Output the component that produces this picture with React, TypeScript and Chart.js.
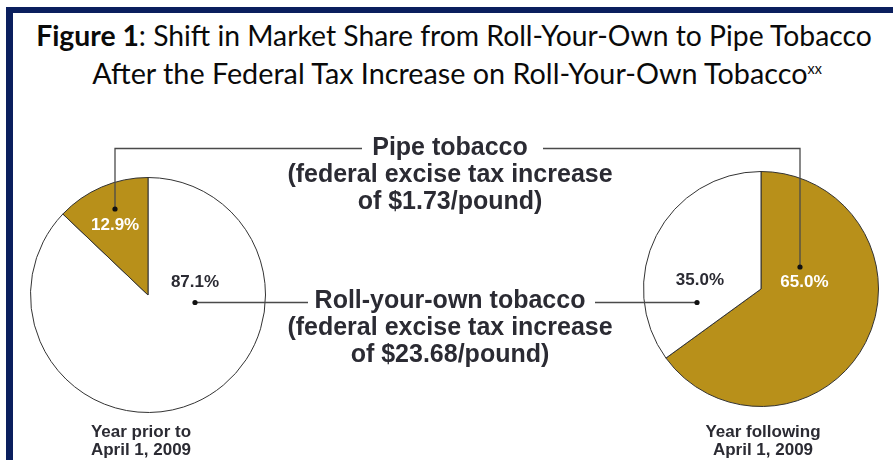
import React, { useEffect, useLayoutEffect, useRef } from "react";
import { Chart, registerables } from "chart.js";

Chart.register(...registerables);

// ---- data ----
const leftCategories = ["Roll-your-own tobacco", "Pipe tobacco"];
const leftValues = [87.1, 12.9];
const rightCategories = ["Pipe tobacco", "Roll-your-own tobacco"];
const rightValues = [65.0, 35.0];

const titleBold = "Figure 1";
const titleLine1 = ": Shift in Market Share from Roll-Your-Own to Pipe Tobacco";
const titleLine2 = "After the Federal Tax Increase on Roll-Your-Own Tobacco";
const titleSup = "xx";
const pipeLines = ["Pipe tobacco", "(federal excise tax increase", "of $1.73/pound)"];
const ryoLines = ["Roll-your-own tobacco", "(federal excise tax increase", "of $23.68/pound)"];
const leftCaption = ["Year prior to", "April 1, 2009"];
const rightCaption = ["Year following", "April 1, 2009"];

// ---- style ----
const GOLD = "#b8901a";
const WHITE = "#ffffff";
const TEXT = "#2b2b33";
const LINE = "#4a4a4a";
const NAVY = "#0b1f5e";
const SANS = '"Liberation Sans", Arial, Helvetica, sans-serif';

const pctPlugin = {
  id: "pct",
  afterDatasetsDraw(chart: any, _args: any, opts: any) {
    const meta = chart.getDatasetMeta(0);
    const ctx = chart.ctx;
    const data = chart.data.datasets[0].data;
    meta.data.forEach((arc: any, i: number) => {
      const p = arc.getProps(["x", "y", "outerRadius"], true);
      const off = opts.offsets[i];
      ctx.save();
      ctx.font = `bold 17px ${SANS}`;
      ctx.fillStyle = opts.colors[i];
      ctx.textAlign = "center";
      ctx.textBaseline = "middle";
      ctx.fillText(
        Number(data[i]).toFixed(1) + "%",
        p.x + off[0] * p.outerRadius,
        p.y + off[1] * p.outerRadius
      );
      ctx.restore();
    });
  },
};

function PieChart(props: {
  labels: string[];
  values: number[];
  colors: string[];
  textColors: string[];
  offsets: number[][];
  left: number;
  top: number;
  size: number;
}) {
  const ref = useRef<HTMLCanvasElement | null>(null);
  useEffect(() => {
    if (!ref.current) return;
    const chart = new Chart(ref.current, {
      type: "pie",
      data: {
        labels: props.labels,
        datasets: [
          {
            data: props.values,
            backgroundColor: props.colors,
            borderColor: "#333333",
            borderWidth: 1,
          },
        ],
      },
      options: {
        responsive: false,
        maintainAspectRatio: false,
        animation: false,
        layout: { padding: 0 },
        plugins: {
          legend: { display: false },
          tooltip: { enabled: false },
          // @ts-ignore
          pct: { offsets: props.offsets, colors: props.textColors },
        },
      },
      plugins: [pctPlugin as any],
    } as any);
    return () => chart.destroy();
  }, []);
  return (
    <canvas
      ref={ref}
      width={props.size}
      height={props.size}
      style={{ position: "absolute", left: props.left, top: props.top, width: props.size, height: props.size }}
    />
  );
}

function Line(props: { text: string; cx: number; cy: number; size: number; lh: number }) {
  return (
    <div
      style={{
        position: "absolute",
        left: props.cx - 300,
        width: 600,
        top: props.cy - props.lh / 2,
        height: props.lh,
        lineHeight: props.lh + "px",
        fontSize: props.size,
        fontFamily: SANS,
        fontWeight: "bold",
        color: TEXT,
        textAlign: "center",
        whiteSpace: "nowrap",
      }}
    >
      {props.text}
    </div>
  );
}

export default function App() {
  const t1 = useRef<HTMLSpanElement | null>(null);
  const t2 = useRef<HTMLSpanElement | null>(null);

  useLayoutEffect(() => {
    const fit = (el: HTMLSpanElement | null, target: number) => {
      if (!el) return;
      el.style.fontSize = "25px";
      const w = el.getBoundingClientRect().width;
      if (w > 0) el.style.fontSize = (25 * target) / w + "px";
    };
    fit(t1.current, 836);
    fit(t2.current, 730);
  }, []);

  const titleFont = 'Lato, "Open Sans", "DejaVu Sans", sans-serif';

  return (
    <div
      style={{
        position: "fixed",
        left: 0,
        top: 0,
        width: 893,
        height: 460,
        background: "#ffffff",
        overflow: "hidden",
      }}
    >
      {/* frame */}
      <div style={{ position: "absolute", left: 6, top: 7, width: 887, height: 6, background: NAVY }} />
      <div style={{ position: "absolute", left: 6, top: 7, width: 7, height: 453, background: NAVY }} />

      {/* title */}
      <div style={{ position: "absolute", left: 0, width: 908, top: 35 - 16, height: 32, lineHeight: "32px", textAlign: "center", whiteSpace: "nowrap", color: "#0a0a0a" }}>
        <span ref={t1} style={{ fontFamily: titleFont, fontSize: 25 }}>
          <b>{titleBold}</b>
          {titleLine1}
        </span>
      </div>
      <div style={{ position: "absolute", left: 0, width: 914, top: 73 - 16, height: 32, lineHeight: "32px", textAlign: "center", whiteSpace: "nowrap", color: "#0a0a0a" }}>
        <span ref={t2} style={{ fontFamily: titleFont, fontSize: 25 }}>
          {titleLine2}
          <sup style={{ fontSize: "0.5em", verticalAlign: "0.7em", lineHeight: 0 }}>{titleSup}</sup>
        </span>
      </div>

      {/* pies */}
      <PieChart
        labels={leftCategories}
        values={leftValues}
        colors={[WHITE, GOLD]}
        textColors={[TEXT, "#ffffff"]}
        offsets={[[0.4, -0.11], [-0.28, -0.59]]}
        left={30}
        top={177}
        size={236}
      />
      <PieChart
        labels={rightCategories}
        values={rightValues}
        colors={[GOLD, WHITE]}
        textColors={["#ffffff", TEXT]}
        offsets={[[0.37, -0.06], [-0.52, -0.07]]}
        left={643}
        top={171}
        size={236}
      />

      {/* leader lines */}
      <svg width={893} height={460} style={{ position: "absolute", left: 0, top: 0 }}>
        <g stroke={LINE} strokeWidth={1.3} fill="none">
          <polyline points="115,209 115,148.5 362,148.5" />
          <polyline points="543,148.5 800,148.5 800,267" />
          <polyline points="195,302.5 308,302.5" />
          <polyline points="595,302.5 697,302.5" />
        </g>
        <g fill="#111">
          <circle cx={115} cy={209} r={2.6} />
          <circle cx={800} cy={267} r={2.6} />
          <circle cx={195} cy={302.5} r={2.6} />
          <circle cx={697} cy={302.5} r={2.6} />
        </g>
      </svg>

      {/* center annotations */}
      {pipeLines.map((t, i) => (
        <Line key={"p" + i} text={t} cx={450} cy={146 + i * 27} size={25} lh={28} />
      ))}
      {ryoLines.map((t, i) => (
        <Line key={"r" + i} text={t} cx={450} cy={299 + i * 27} size={25} lh={28} />
      ))}

      {/* captions */}
      {leftCaption.map((t, i) => (
        <Line key={"lc" + i} text={t} cx={141} cy={432 + i * 18} size={17} lh={18} />
      ))}
      {rightCaption.map((t, i) => (
        <Line key={"rc" + i} text={t} cx={763} cy={432 + i * 18} size={17} lh={18} />
      ))}
    </div>
  );
}
